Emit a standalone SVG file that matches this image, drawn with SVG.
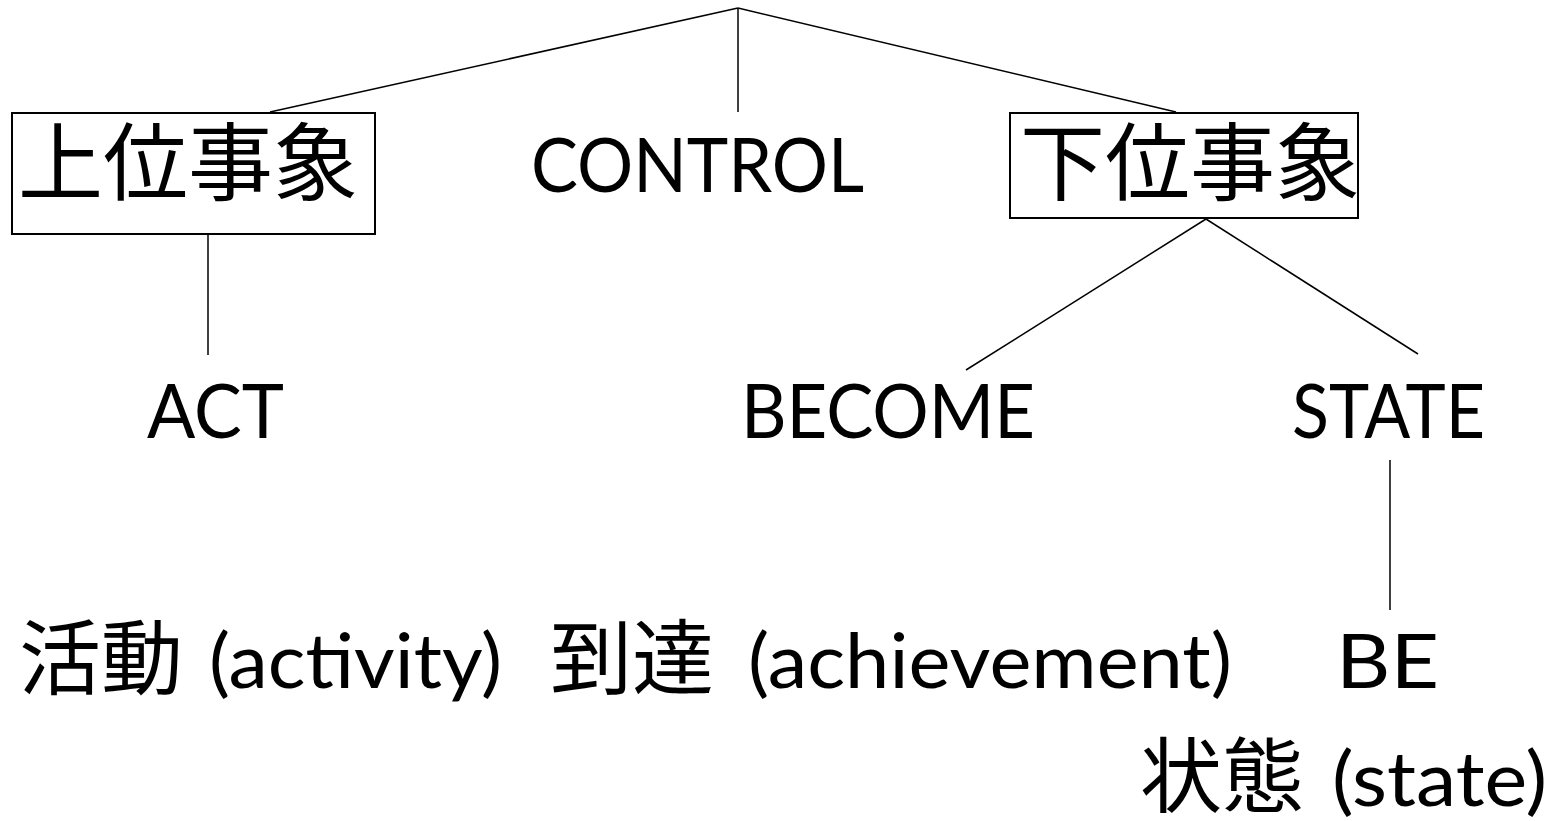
<svg xmlns="http://www.w3.org/2000/svg" width="1551" height="821" viewBox="0 0 1551 821">
<style>
.cjk{font-family:"Noto Sans CJK JP","Noto Sans CJK SC",sans-serif;fill:#000}
.lat{font-family:Lato,"Liberation Sans",sans-serif;font-size:75px;fill:#000}
.box{fill:#fff;stroke:#000;stroke-width:2}
.ln{stroke:#000;stroke-width:1.5;fill:none}
</style>
<rect width="1551" height="821" fill="#fff"/>
<g id="connectors">
<line class="ln" x1="738" y1="8" x2="270" y2="112"/>
<line class="ln" x1="738" y1="8" x2="738" y2="112"/>
<line class="ln" x1="738" y1="8" x2="1176" y2="112"/>
<line class="ln" x1="208" y1="234" x2="208" y2="355"/>
<line class="ln" x1="1206" y1="219" x2="966" y2="370"/>
<line class="ln" x1="1206" y1="219" x2="1418" y2="354"/>
<line class="ln" x1="1390" y1="460" x2="1390" y2="610"/>
</g>
<g id="node-upper">
<rect class="box" x="12" y="113" width="363" height="121"/>
<text class="cjk" x="18" y="194" font-size="85">上位事象</text>
</g>
<g id="node-control">
<text class="lat" x="531" y="192" textLength="333" lengthAdjust="spacingAndGlyphs">CONTROL</text>
</g>
<g id="node-lower">
<rect class="box" x="1010" y="113" width="348" height="105"/>
<text class="cjk" x="1020" y="194" font-size="85">下位事象</text>
</g>
<g id="node-act">
<text class="lat" x="147" y="438" textLength="137" lengthAdjust="spacingAndGlyphs">ACT</text>
</g>
<g id="node-become">
<text class="lat" x="741" y="438" textLength="294" lengthAdjust="spacingAndGlyphs">BECOME</text>
</g>
<g id="node-state">
<text class="lat" x="1292" y="438" textLength="193" lengthAdjust="spacingAndGlyphs">STATE</text>
</g>
<g id="node-activity">
<text class="cjk" x="19" y="688" font-size="82">活動</text>
<text class="lat" x="209" y="688" textLength="293" lengthAdjust="spacingAndGlyphs">(activity)</text>
</g>
<g id="node-achievement">
<text class="cjk" x="550" y="688" font-size="82">到達</text>
<text class="lat" x="748" y="688" textLength="484" lengthAdjust="spacingAndGlyphs">(achievement)</text>
</g>
<g id="node-be">
<text class="lat" x="1336" y="688" textLength="103" lengthAdjust="spacingAndGlyphs">BE</text>
</g>
<g id="node-statelabel">
<text class="cjk" x="1140" y="806" font-size="82">状態</text>
<text class="lat" x="1332" y="806" textLength="215" lengthAdjust="spacingAndGlyphs">(state)</text>
</g>
</svg>
